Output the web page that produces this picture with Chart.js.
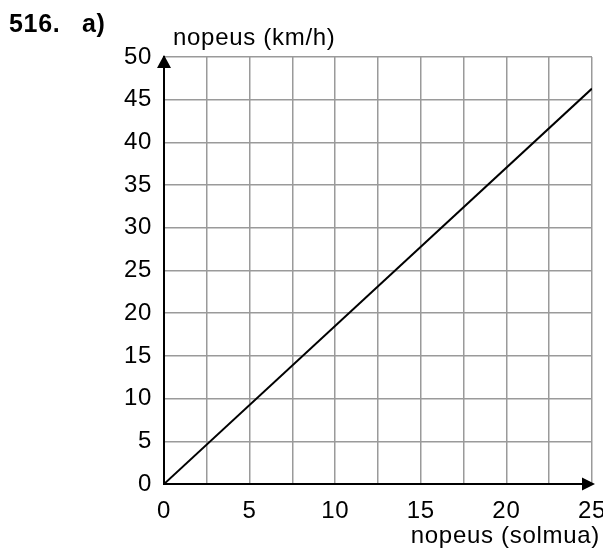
<!DOCTYPE html>
<html>
<head>
<meta charset="utf-8">
<script src="https://cdn.jsdelivr.net/npm/chart.js@4/dist/chart.umd.min.js"></script>
<style>
  html, body { margin: 0; padding: 0; background: #fff; }
  canvas { display: block; }
</style>
</head>
<body>
<canvas id="c" width="603" height="550"></canvas>
<script>
// Speed in knots and the matching speed in km/h
const speedKnots = [0, 25];
const speedKmh = [0, 46.3];

// Axis ranges and tick steps
const xRange = [0, 25];
const yRange = [0, 50];
const xGridStep = 2.5;
const xLabelStep = 5;
const yStep = 5;

// Texts
const exerciseNumber = '516.';
const exercisePart = 'a)';
const yAxisTitle = 'nopeus (km/h)';
const xAxisTitle = 'nopeus (solmua)';

const FONT = '"Liberation Sans", Arial, Helvetica, sans-serif';
const SPACING = '0.7px';

const spacingPlugin = {
  id: 'spacing',
  beforeUpdate(chart) { chart.ctx.letterSpacing = SPACING; },
  beforeDraw(chart) { chart.ctx.letterSpacing = SPACING; }
};

const decorPlugin = {
  id: 'decor',
  afterDraw(chart) {
    const ctx = chart.ctx;
    const xs = chart.scales.x, ys = chart.scales.y;
    const x0 = xs.getPixelForValue(xRange[0]);
    const yBase = ys.getPixelForValue(yRange[0]);
    const xEnd = xs.getPixelForValue(xRange[1]);
    const yTop = ys.getPixelForValue(yRange[1]);
    ctx.save();
    ctx.fillStyle = '#000';
    ctx.strokeStyle = '#000';
    ctx.lineWidth = 2;
    // x-axis arrow
    ctx.beginPath();
    ctx.moveTo(xEnd + 3, yBase);
    ctx.lineTo(xEnd - 10, yBase - 6.5);
    ctx.lineTo(xEnd - 10, yBase + 6.5);
    ctx.closePath();
    ctx.fill();
    // y-axis arrow
    ctx.beginPath();
    ctx.moveTo(x0, yTop - 2);
    ctx.lineTo(x0 - 7, yTop + 11);
    ctx.lineTo(x0 + 7, yTop + 11);
    ctx.closePath();
    ctx.fill();

    ctx.letterSpacing = SPACING;
    ctx.textBaseline = 'alphabetic';
    ctx.font = 'bold 25px ' + FONT;
    ctx.textAlign = 'left';
    ctx.fillText(exerciseNumber, 9, 31.5);
    ctx.fillText(exercisePart, 82, 31.5);

    ctx.font = '24px ' + FONT;
    ctx.fillText(yAxisTitle, 173, 45);
    ctx.textAlign = 'right';
    ctx.fillText(xAxisTitle, 600, 543);
    ctx.restore();
  }
};

const tickFont = { family: FONT, size: 24 };

new Chart(document.getElementById('c'), {
  type: 'line',
  data: {
    datasets: [{
      data: speedKnots.map((k, i) => ({ x: k, y: speedKmh[i] })),
      borderColor: '#000',
      borderWidth: 2,
      pointRadius: 0,
      tension: 0,
      fill: false
    }]
  },
  options: {
    responsive: false,
    devicePixelRatio: 1,
    animation: false,
    layout: { padding: { top: 57, right: 11, left: 0, bottom: 0 } },
    plugins: { legend: { display: false }, tooltip: { enabled: false } },
    scales: {
      x: {
        type: 'linear',
        min: xRange[0],
        max: xRange[1],
        afterFit(s) { s.height = 66; s.paddingLeft = 0; s.paddingRight = 0; },
        ticks: {
          stepSize: xGridStep,
          autoSkip: false,
          maxRotation: 0,
          padding: 13,
          color: '#000',
          font: tickFont,
          callback: v => (v % xLabelStep === 0 ? String(v) : '')
        },
        grid: { color: '#9a9a9a', lineWidth: 1.5, drawTicks: false },
        border: { color: '#000', width: 2 }
      },
      y: {
        type: 'linear',
        min: yRange[0],
        max: yRange[1],
        afterFit(s) { s.width = 164; },
        ticks: {
          stepSize: yStep,
          padding: 12,
          color: '#000',
          font: tickFont
        },
        grid: { color: '#9a9a9a', lineWidth: 1.5, drawTicks: false },
        border: { color: '#000', width: 2 }
      }
    }
  },
  plugins: [spacingPlugin, decorPlugin]
});
</script>
</body>
</html>
